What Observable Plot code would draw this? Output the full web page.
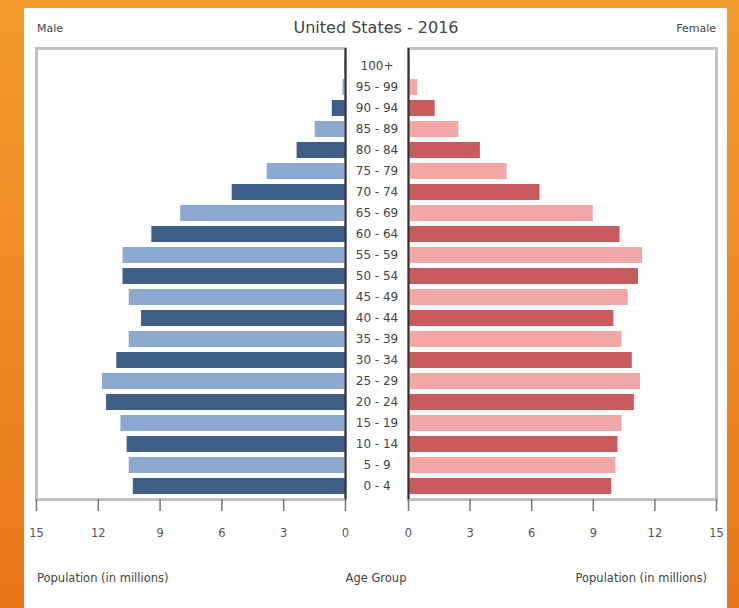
<!DOCTYPE html>
<html>
<head>
<meta charset="utf-8">
<script src="https://cdn.jsdelivr.net/npm/d3@7"></script>
<script src="https://cdn.jsdelivr.net/npm/@observablehq/plot@0.6"></script>
<style>
  html, body { margin: 0; padding: 0; }
  #page {
    position: relative; width: 739px; height: 608px; overflow: hidden;
    background: linear-gradient(to bottom, #F29B2C 0%, #EE8A22 50%, #E8771B 100%);
    font-family: "DejaVu Sans", "Liberation Sans", sans-serif;
  }
  #panel { position: absolute; left: 24px; top: 8px; width: 703px; height: 600px; background: #fff; }
  .lbl { position: absolute; color: #444; white-space: nowrap; }
  .layer { position: absolute; left: 0; top: 0; }
  .layer svg { background: transparent !important; }
</style>
</head>
<body>
<div id="page">
  <div id="panel"></div>
  <div id="left" class="layer"></div>
  <div id="right" class="layer"></div>
  <div class="lbl" style="left:37px; top:22px; font-size:11px;">Male</div>
  <div class="lbl" style="left:376px; top:18px; font-size:16px; transform:translateX(-50%);">United States - 2016</div>
  <div class="lbl" style="right:23px; top:22px; font-size:11px;">Female</div>
  <div class="lbl" style="left:37px; top:571px; font-size:11.5px;">Population (in millions)</div>
  <div class="lbl" style="left:376px; top:571px; font-size:11.5px; transform:translateX(-50%);">Age Group</div>
  <div class="lbl" style="right:32px; top:571px; font-size:11.5px;">Population (in millions)</div>
</div>
<script>
// Age groups, bottom (youngest) to top (oldest)
const ages = ["0 - 4","5 - 9","10 - 14","15 - 19","20 - 24","25 - 29","30 - 34","35 - 39","40 - 44","45 - 49",
              "50 - 54","55 - 59","60 - 64","65 - 69","70 - 74","75 - 79","80 - 84","85 - 89","90 - 94","95 - 99","100+"];
// Population in millions
const male   = [10.3,10.5,10.6,10.9,11.6,11.8,11.1,10.5,9.9,10.5,10.8,10.8,9.4,8.0,5.5,3.8,2.35,1.47,0.64,0.12,0.02];
const female = [9.9,10.1,10.2,10.4,11.0,11.3,10.9,10.4,10.0,10.7,11.2,11.4,10.3,9.0,6.4,4.8,3.5,2.45,1.3,0.45,0.07];
const xTicks = [0,3,6,9,12,15];

const table = ages.map((a, i) => ({age: a, male: male[i], female: female[i], shade: i % 2 === 0 ? "dark" : "light"}));
const yDomain = ages.slice().reverse();

const W = 739, H = 608;
const common = {
  width: W, height: H,
  marginTop: 48, marginBottom: H - 499,
  style: {background: "transparent", fontFamily: "DejaVu Sans, sans-serif", color: "#555"}
};
const yScale = {domain: yDomain, paddingInner: 0.25, paddingOuter: 0.06, insetTop: 5};

const leftPlot = Plot.plot({
  ...common,
  marginLeft: 36, marginRight: W - 345,
  x: {domain: [0, 15], reverse: true},
  y: {...yScale},
  color: {domain: ["dark", "light"], range: ["#3E5F88", "#8CA9D0"]},
  marks: [
    Plot.frame({stroke: "#c2c2c2", strokeWidth: 3}),
    Plot.barX(table, {x: "male", y: "age", fill: "shade"}),
    Plot.ruleX([0], {stroke: "#333", strokeWidth: 2}),
    Plot.axisX({ticks: xTicks, tickSize: 12, tickPadding: 17, label: null, fontSize: 11.5, stroke: "#777", strokeWidth: 1.5, strokeOpacity: 1, fill: "#555"}),
    Plot.axisY({anchor: "right", tickSize: 0, tickPadding: 31.5, textAnchor: "middle", label: null, fontSize: 12, fill: "#444"})
  ]
});

const rightPlot = Plot.plot({
  ...common,
  marginLeft: 408, marginRight: W - 716,
  x: {domain: [0, 15]},
  y: {...yScale, axis: null},
  color: {domain: ["dark", "light"], range: ["#C95A5E", "#F2A7A9"]},
  marks: [
    Plot.frame({stroke: "#c2c2c2", strokeWidth: 3}),
    Plot.barX(table, {x: "female", y: "age", fill: "shade"}),
    Plot.ruleX([0], {stroke: "#333", strokeWidth: 2}),
    Plot.axisX({ticks: xTicks, tickSize: 12, tickPadding: 17, label: null, fontSize: 11.5, stroke: "#777", strokeWidth: 1.5, strokeOpacity: 1, fill: "#555"})
  ]
});

document.getElementById("left").appendChild(leftPlot);
document.getElementById("right").appendChild(rightPlot);
</script>
</body>
</html>
